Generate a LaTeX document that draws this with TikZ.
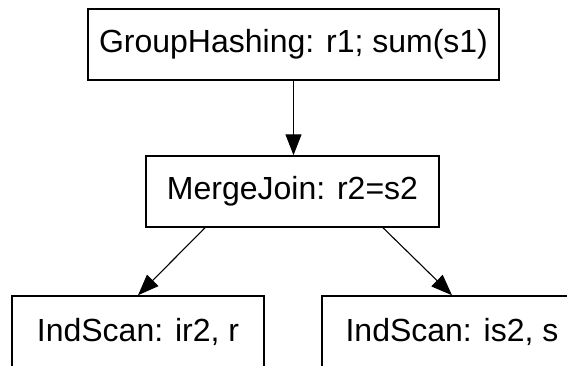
\documentclass[tikz,border=0pt]{standalone}
\usepackage{fontspec}
\setmainfont{Liberation Sans}
\usetikzlibrary{arrows.meta}
\begin{document}
\begin{tikzpicture}[
    x=1pt, y=-1pt,
    >={Triangle[length=21pt,width=16pt]},
    every node/.style={align=center},
    op/.style={draw, line width=1.5pt, inner sep=0pt, minimum height=71pt,
        font=\fontsize{32}{38}\selectfont},
    plan edge/.style={->, draw, line width=1.1pt}]

\useasboundingbox (0,0) rectangle (567,365);

% aggregation at the root
\node[op, minimum width=411pt] (group) at (293.5,44.5) {GroupHashing: r1; sum(s1)};
% join below it
\node[op, minimum width=293pt] (join) at (292.5,191.5) {MergeJoin: r2=s2};
% the two index scans
\node[op, minimum width=252pt] (scanr) at (138,331.5) {IndScan: ir2, r};
\node[op, minimum width=260pt] (scans) at (452,331.5) {IndScan: is2, s};

% edges of the plan
\draw[plan edge] (group.south) -- (group.south |- join.north);
\draw[plan edge] ([xshift=-87.5pt]join.south) -- (scanr.north);
\draw[plan edge] ([xshift=90.5pt]join.south) -- (scans.north);
\end{tikzpicture}
\end{document}
